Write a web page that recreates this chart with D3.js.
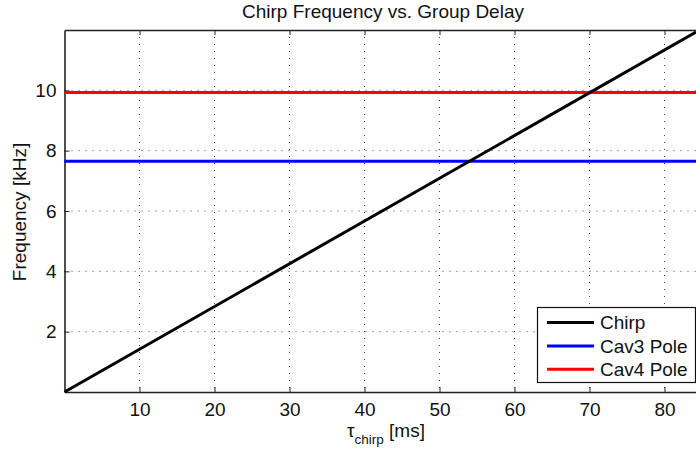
<!DOCTYPE html>
<html><head><meta charset="utf-8">
<script src="https://cdn.jsdelivr.net/npm/d3@7"></script>
<style>
html,body{margin:0;padding:0;background:#fff;}
svg{display:block;font-family:"Liberation Sans",Arial,sans-serif;}
</style></head>
<body>
<svg id="c" width="696" height="452"></svg>
<script>
// data
const chirpTau = [0, 84.2];          // ms
const chirpFreq = [0, 11.93];        // kHz
const cav3Pole = 7.65;               // kHz
const cav4Pole = 9.93;               // kHz
const xTicks = [10, 20, 30, 40, 50, 60, 70, 80];
const yTicks = [2, 4, 6, 8, 10];
const xDomain = [0, 84.2];
const yDomain = [0, 12];
const legendLabels = ["Chirp", "Cav3 Pole", "Cav4 Pole"];
const legendColors = ["#000000", "#0000ff", "#ff0000"];

const FS = 19;
const svg = d3.select("#c");
const L = 64.5, R = 696, T = 30, B = 392;
const x = d3.scaleLinear().domain(xDomain).range([L, R]);
const y = d3.scaleLinear().domain(yDomain).range([B, T]);

// grid
const grid = svg.append("g").attr("stroke", "#444").attr("stroke-width", 1)
  .attr("stroke-dasharray", "1,6");
xTicks.forEach(t => grid.append("line").attr("x1", x(t)).attr("x2", x(t)).attr("y1", T).attr("y2", B));
yTicks.forEach(t => grid.append("line").attr("x1", L).attr("x2", R).attr("y1", y(t)).attr("y2", y(t)));

// axes
const axB = d3.axisBottom(x).tickValues(xTicks).tickSizeInner(-5).tickSizeOuter(0).tickPadding(10);
const axL = d3.axisLeft(y).tickValues(yTicks).tickSizeInner(-5).tickSizeOuter(0).tickPadding(8);
const axT = d3.axisTop(x).tickValues(xTicks).tickSizeInner(-5).tickSizeOuter(0).tickFormat("");
const gb = svg.append("g").attr("transform", `translate(0,${B})`).call(axB);
const gl = svg.append("g").attr("transform", `translate(${L},0)`).call(axL);
const gt = svg.append("g").attr("transform", `translate(0,${T})`).call(axT);
[gb, gl, gt].forEach(g => {
  g.select(".domain").attr("stroke", "#222").attr("stroke-width", 1.6);
  g.selectAll(".tick line").attr("stroke", "#222").attr("stroke-width", 1);
  g.selectAll(".tick text").attr("fill", "#111").attr("font-size", FS)
    .attr("font-family", "'Liberation Sans',Arial,sans-serif");
});
gb.selectAll(".tick text").attr("dy", "0.72em");

// lines
const line = d3.line().x(d => x(d[0])).y(d => y(d[1]));
svg.append("path").datum([[xDomain[0], cav3Pole], [xDomain[1], cav3Pole]])
  .attr("d", line).attr("stroke", "#0000ff").attr("stroke-width", 3).attr("fill", "none");
svg.append("path").datum([[xDomain[0], cav4Pole], [xDomain[1], cav4Pole]])
  .attr("d", line).attr("stroke", "#ff0000").attr("stroke-width", 3).attr("fill", "none");
svg.append("path").datum(chirpTau.map((t, i) => [t, chirpFreq[i]]))
  .attr("d", line).attr("stroke", "#000").attr("stroke-width", 3).attr("fill", "none");

// title
svg.append("text").attr("x", 383).attr("y", 17.5).attr("text-anchor", "middle")
  .attr("font-size", FS).attr("fill", "#111").text("Chirp Frequency vs. Group Delay");

// y label
svg.append("text").attr("transform", "translate(26,212) rotate(-90)").attr("text-anchor", "middle")
  .attr("font-size", FS).attr("fill", "#111").text("Frequency [kHz]");

// x label
const xl = svg.append("text").attr("x", 386).attr("y", 437).attr("text-anchor", "middle")
  .attr("font-size", FS).attr("fill", "#111");
xl.append("tspan").text("τ");
xl.append("tspan").attr("font-size", 13.5).attr("dy", 7).text("chirp");
xl.append("tspan").attr("dy", -7).text(" [ms]");

// legend
const lg = svg.append("g");
lg.append("rect").attr("x", 537.5).attr("y", 307.5).attr("width", 158).attr("height", 75)
  .attr("fill", "#fff").attr("stroke", "#111").attr("stroke-width", 1.2);
legendLabels.forEach((lab, i) => {
  const yy = 322.5 + i * 23.4;
  lg.append("line").attr("x1", 547).attr("x2", 594).attr("y1", yy).attr("y2", yy)
    .attr("stroke", legendColors[i]).attr("stroke-width", 3);
  lg.append("text").attr("x", 600).attr("y", yy).attr("dy", "0.36em")
    .attr("font-size", FS).attr("fill", "#111").text(lab);
});
</script>
</body></html>
